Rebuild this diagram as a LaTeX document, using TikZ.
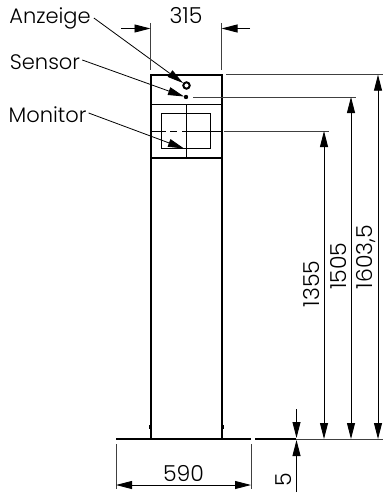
\documentclass[tikz,border=0pt]{standalone}
\usepackage{fontspec}
\setmainfont{Poppins Light}
\usetikzlibrary{arrows.meta}
\tikzset{
  dimtip/.style={-{Triangle[length=16pt,width=8pt]}},
  bothtips/.style={{Triangle[length=16pt,width=8pt]}-{Triangle[length=16pt,width=8pt]}},
  thinline/.style={line width=0.9pt,black!75},
  outline/.style={line width=2pt},
  label/.style={font=\fontsize{21}{21}\selectfont,inner sep=0pt},
  number/.style={font=\fontsize{22}{22}\selectfont,inner sep=0pt},
}
\begin{document}
\begin{tikzpicture}[x=1pt,y=-1pt]
\useasboundingbox (0,0) rectangle (383,495);
% post and base plate
\draw[outline] (151,439) -- (151,75) -- (221.5,75) -- (221.5,439);
\draw[line width=1.2pt] (151,104.5) -- (221.5,104.5);
\draw[line width=1.2pt] (151,158) -- (221.5,158);
\draw[line width=0.8pt] (161.5,113.5) rectangle (210.5,148.5);
\draw[line width=0.8pt] (186,104.5) -- (186,158);
\draw[line width=0.8pt] (152,131) -- (166,131);
\draw[line width=0.8pt] (170,131) -- (177,131);
\draw[line width=0.8pt] (182,131) -- (221,131);
\draw[line width=2.2pt] (116,439) -- (251,439);
\draw[line width=2.2pt] (255,439) -- (296,439);
\fill (148.5,425) rectangle (151,429);
\fill (221.5,425) rectangle (224,429);
% display and sensor
\coordinate (anzeigetip) at (183,83);
\coordinate (sensortip) at (184,96.5);
\coordinate (monitortip) at (184,148.5);
\draw[line width=2pt] (186.5,85.5) circle (3.2pt);
\fill (186,97) circle (2.2pt);
% labels
\node[label] (anzeige) at (50,18) {Anzeige};
\node[label] (sensor) at (45,62) {Sensor};
\node[label] (monitor) at (47.5,115) {Monitor};
\draw[dimtip,line width=0.8pt] (anzeige.east) ++(3,0) -- (anzeigetip);
\draw[dimtip,line width=0.8pt] (sensor.east) ++(2,-2) -- (sensortip);
\draw[dimtip,line width=0.8pt] (monitor.east) ++(2,-2) -- (monitortip);
% extension lines
\draw[thinline] (150.5,23) -- (150.5,70);
\draw[thinline] (221.5,23) -- (221.5,70);
\draw[thinline] (226,74.7) -- (383,74.7);
\draw[thinline] (193,97) -- (356,97);
\draw[thinline] (224,131) -- (329,131);
\draw[thinline] (296,439.5) -- (383,439.5);
\draw[thinline] (116,444) -- (116,489);
\draw[thinline] (251,444) -- (251,489);
% width dimensions
\coordinate (wa) at (150.5,28.5);
\coordinate (wb) at (221.5,28.5);
\draw[dimtip,thinline,black] (121,28.5) -- (wa);
\draw[dimtip,thinline,black] (250,28.5) -- (wb);
\node[number] (w315) at (186,16) {315};
\coordinate (ba) at (116,485);
\coordinate (bb) at (251,485);
\draw[bothtips,thinline,black] (ba) -- (bb);
\node[number] (b590) at (183.5,473.5) {590};
% height dimensions
\foreach \name/\x/\ytop in {h1/324/131,h2/351/97,h3/378/74.7}
  \draw[bothtips,thinline,black] (\x,\ytop) -- (\x,439);
\node[number,rotate=90] (h1355) at (311.5,284) {1355};
\node[number,rotate=90] (h1505) at (339,266) {1505};
\node[number,rotate=90] (h1603) at (366,257) {1603,5};
\draw[dimtip,thinline,black] (296.5,409) -- (296.5,438);
\draw[dimtip,thinline,black] (296.5,492) -- (296.5,440);
\node[number,rotate=90] (h5) at (284,480) {5};
\end{tikzpicture}
\end{document}
